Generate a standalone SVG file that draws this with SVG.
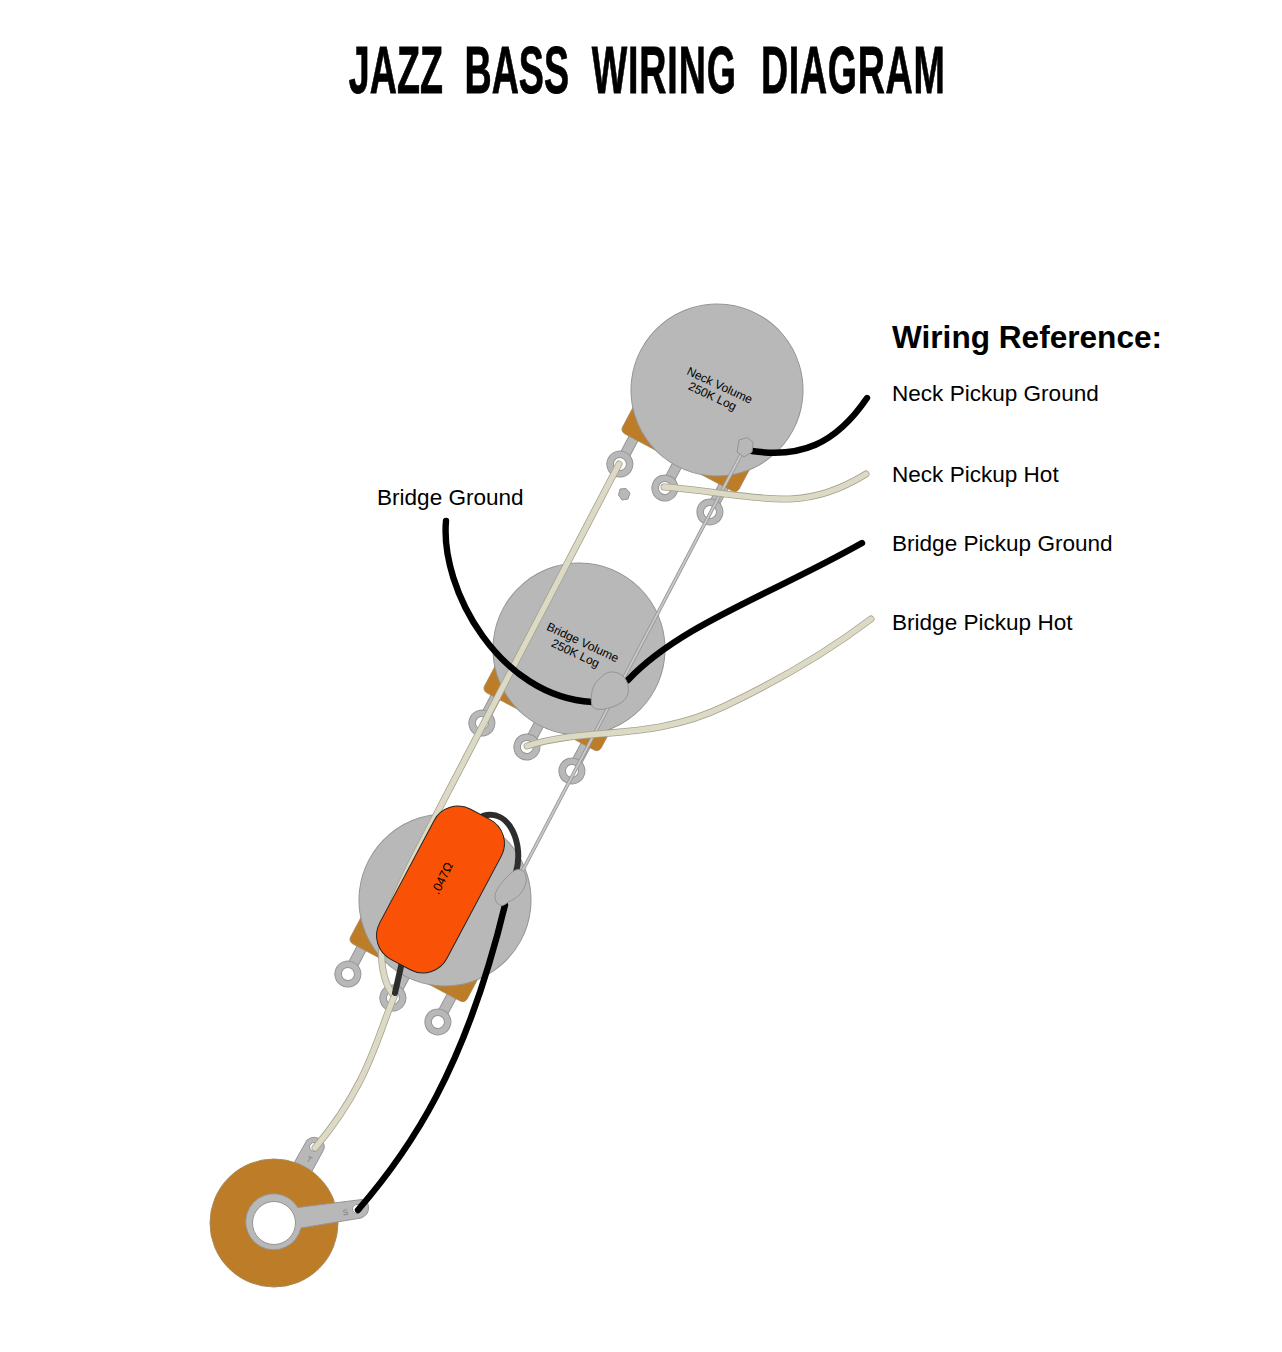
<svg xmlns="http://www.w3.org/2000/svg" width="1282" height="1352" viewBox="0 0 1282 1352">
<style>
text{font-family:"Liberation Sans",Arial,sans-serif;fill:#000}
.lbl{font-size:22.55px}
.pt{font-size:12px;text-anchor:middle}
.metal{fill:#b8b8b8;stroke:#959595;stroke-width:1}
.plate{fill:#bd7c28;stroke:#a98a5c;stroke-width:.8}
.hole{fill:#fff;stroke:#959595;stroke-width:1}
.w{fill:none;stroke-linecap:round;stroke-linejoin:round}
.co{stroke:#a5a28f;stroke-width:7}
.c{stroke:#dcd9c5;stroke-width:5.4}
.k{stroke:#000;stroke-width:6.4}
.d{stroke:#2d2d2d;stroke-width:6}
.go{stroke:#999;stroke-width:3.6}
.g{stroke:#c9c9c9;stroke-width:1.8}
.tag{font-size:8px;fill:#7d7d7d;text-anchor:middle}
</style>
<defs>
<g id="pot">
<rect class="metal" x="-56" y="70" width="10" height="32"/>
<rect class="metal" x="-5" y="70" width="10" height="32"/>
<rect class="metal" x="46" y="70" width="10" height="32"/>
<rect class="plate" x="-66" y="30" width="132" height="52" rx="5"/>
<circle class="metal" cx="-51" cy="111" r="13"/><circle class="hole" cx="-51" cy="111" r="6.5"/>
<circle class="metal" cx="0" cy="111" r="13"/><circle class="hole" cx="0" cy="111" r="6.5"/>
<circle class="metal" cx="51" cy="111" r="13"/><circle class="hole" cx="51" cy="111" r="6.5"/>
<circle class="metal" cx="0" cy="0" r="86"/>
</g>
</defs>
<text id="title" transform="translate(0,93) scale(.57,1)" font-size="66" font-weight="700" stroke="#000" stroke-width=".8"><tspan x="612">JAZZ</tspan><tspan x="815">BASS</tspan><tspan x="1038" letter-spacing="1.5">WIRING</tspan><tspan x="1335" letter-spacing="1.2">DIAGRAM</tspan></text>

<g id="neck-volume">
<use href="#pot" transform="translate(717,390) rotate(28)"/>
<text class="pt" transform="translate(718,389) rotate(25)"><tspan x="0" y="0">Neck Volume</tspan><tspan x="-2" y="13">250K Log</tspan></text>
</g>
<g id="bridge-volume">
<use href="#pot" transform="translate(579,649) rotate(28)"/>
<text class="pt" transform="translate(581,646) rotate(25)"><tspan x="0" y="0">Bridge Volume</tspan><tspan x="-2" y="13">250K Log</tspan></text>
</g>
<g id="tone-pot">
<use href="#pot" transform="translate(445,900) rotate(28)"/>
</g>
<g id="jack">
<path class="metal" d="M294,1163L307,1140Q315,1134 322,1141Q326,1146 323,1151L311,1173Z"/>
<circle cx="274" cy="1223" r="64" fill="#bd7c28" stroke="#a98a5c" stroke-width="1"/>
<path class="metal" d="M297.800,1207.500L362,1199.500Q368,1200 368.500,1207Q369,1215 361,1218L301,1228A28,28 0 1 1 297.800,1207.500Z"/>
<circle class="hole" cx="274" cy="1223" r="21.500"/>
<circle class="hole" cx="357" cy="1209" r="4.500"/>
<circle class="hole" cx="314" cy="1147" r="4.500"/>
<text class="tag" transform="translate(346,1215) rotate(-10)">S</text>
<text class="tag" transform="translate(308,1162) rotate(28)">T</text>
</g>
<g id="solder-dot"><path class="metal" d="M620,489L626,488.500L630,493L628,499L622,500L618.500,495Z" stroke-width=".6"/></g>

<g id="connectors">
<path class="w go" d="M745,447L515,885"/><path class="w g" d="M745,447L515,885"/>
<path class="w co" d="M619,464L423,840C400,885 375,930 383,970C385,982 389,990 394,996"/><path class="w c" d="M619,464L423,840C400,885 375,930 383,970C385,982 389,990 394,996"/>
<path class="w co" d="M394,997C376,1040 368,1085 315,1148"/><path class="w c" d="M394,997C376,1040 368,1085 315,1148"/>
<path class="w co" d="M664,487C710,490 750,500 790,499C820,498 845,487 866,474"/><path class="w c" d="M664,487C710,490 750,500 790,499C820,498 845,487 866,474"/>
<path class="w co" d="M527,746C590,726 650,742 725,706C780,680 830,650 871,619"/><path class="w c" d="M527,746C590,726 650,742 725,706C780,680 830,650 871,619"/>
<path class="w k" d="M752,451C800,458 835,445 867,398"/>
<path class="w k" d="M446,521C440,590 500,697 592,702"/>
<path class="w k" d="M628,680C680,625 770,595 862,543"/>
<path class="w k" d="M358,1210C410,1150 465,1070 505,905"/>
<path class="w d" d="M395,993L402,962"/>
<path class="w d" d="M483,816C510,808 524,845 516,872"/>
</g>
<g id="solder">
<path class="metal" d="M739,440L747,437.500L753,442L752,452L744,457L737,452Z"/>
<path class="metal" d="M610,672C620,671 627,678 628,686C630,695 625,702 615,706C605,710 595,711 592,706C590,696 592,686 598,680C602,676 605,673 610,672Z"/>
<path class="metal" d="M516,870C524,868 527,874 526,882C524,892 518,898 508,902C502,908 497,906 495,898C494,890 504,880 508,876C511,873 513,871 516,870Z"/>
</g>
<g id="capacitor">
<rect x="-38" y="-85" width="76" height="170" rx="27" transform="translate(440.500,889.500) rotate(28)" fill="#f95206" stroke="#222" stroke-width="1"/>
<text font-size="12.500" text-anchor="middle" transform="translate(446,880) rotate(-64)">.047Ω</text>
</g>
<g id="labels">
<text x="892" y="348" font-size="31.600" font-weight="700">Wiring Reference:</text>
<text class="lbl" x="892" y="401">Neck Pickup Ground</text>
<text class="lbl" x="892" y="482">Neck Pickup Hot</text>
<text class="lbl" x="892" y="551">Bridge Pickup Ground</text>
<text class="lbl" x="892" y="630">Bridge Pickup Hot</text>
<text class="lbl" x="377" y="505">Bridge Ground</text>
</g>
</svg>
